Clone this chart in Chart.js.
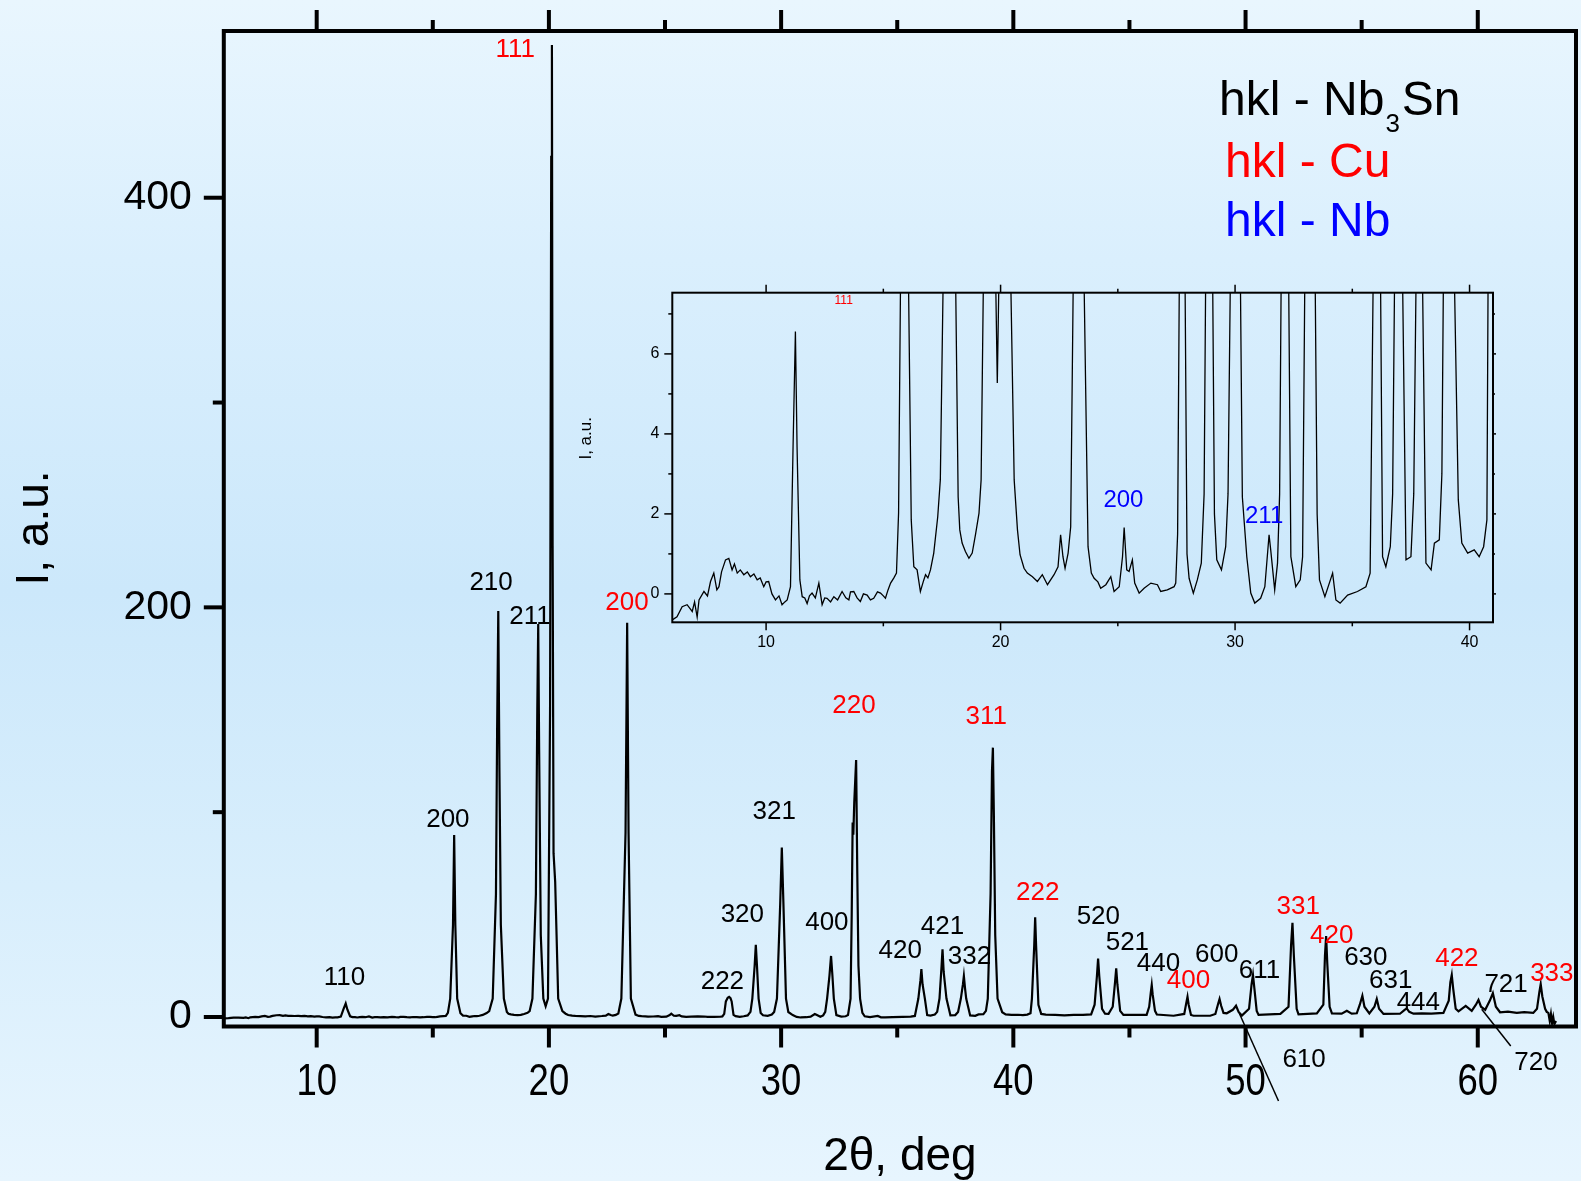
<!DOCTYPE html>
<html><head><meta charset="utf-8">
<script src="https://cdn.jsdelivr.net/npm/chart.js@4.4.1/dist/chart.umd.min.js"></script>
<style>
html,body{margin:0;padding:0;width:1581px;height:1181px;overflow:hidden;
background:linear-gradient(to bottom,#e9f6fe 0%,#daeffd 22%,#cce8fb 50%,#d8eefc 75%,#e7f5fe 100%);}
#main{position:absolute;left:0;top:0;}
#inset{position:absolute;left:560px;top:270px;}
</style></head><body>
<canvas id="main" width="1581" height="1181"></canvas>
<canvas id="inset" width="950" height="400"></canvas>
<script>
// ---- measured pattern: 2theta (deg) ----
const twoTheta = [
 6.00, 6.20, 6.42, 6.63, 6.85, 6.95, 7.06, 7.14, 7.35, 7.50,
 7.63, 7.77, 7.90, 7.99, 8.10, 8.27, 8.41, 8.55, 8.65, 8.77,
 8.90, 9.05, 9.20, 9.33, 9.48, 9.62, 9.75, 9.90, 10.00, 10.11,
 10.25, 10.40, 10.55, 10.68, 10.80, 10.90, 11.04, 11.15, 11.25, 11.32,
 11.44, 11.54, 11.65, 11.75, 11.85, 11.96, 12.10, 12.25, 12.39, 12.50,
 12.60, 12.75, 12.89, 13.05, 13.24, 13.40, 13.53, 13.60, 13.74, 13.88,
 14.02, 14.15, 14.31, 14.45, 14.59, 14.75, 14.88, 15.00, 15.09, 15.20,
 15.31, 15.45, 15.56, 15.65, 15.75, 15.87, 15.92, 15.97, 16.05, 16.19,
 16.30, 16.44, 16.58, 16.70, 16.80, 16.90, 17.01, 17.15, 17.32, 17.43,
 17.58, 17.72, 17.77, 17.82, 17.87, 17.93, 18.06, 18.19, 18.26, 18.36,
 18.50, 18.65, 18.79, 18.93, 19.08, 19.17, 19.29, 19.44, 19.50, 19.54,
 19.58, 19.65, 19.76, 19.86, 19.96, 20.05, 20.10, 20.13, 20.16, 20.20,
 20.27, 20.33, 20.40, 20.58, 20.72, 20.83, 21.00, 21.14, 21.36, 21.57,
 21.78, 22.00, 22.28, 22.45, 22.56, 22.66, 22.75, 22.88, 22.99, 23.12,
 23.30, 23.37, 23.43, 23.53, 23.73, 23.87, 23.99, 24.15, 24.27, 24.49,
 24.70, 24.84, 25.06, 25.20, 25.27, 25.38, 25.48, 25.62, 25.72, 25.91,
 26.12, 26.41, 26.69, 26.83, 27.11, 27.40, 27.47, 27.55, 27.62, 27.70,
 27.76, 27.82, 27.87, 27.95, 28.04, 28.22, 28.39, 28.56, 28.68, 28.76,
 28.86, 28.91, 28.96, 29.03, 29.12, 29.22, 29.42, 29.60, 29.70, 29.82,
 29.96, 30.03, 30.10, 30.21, 30.31, 30.50, 30.67, 30.84, 31.09, 31.27,
 31.45, 31.52, 31.69, 31.81, 31.90, 31.98, 32.08, 32.15, 32.21, 32.27,
 32.38, 32.59, 32.78, 32.88, 32.99, 33.04, 33.08, 33.11, 33.15, 33.23,
 33.28, 33.33, 33.40, 33.50, 33.60, 33.83, 34.16, 34.30, 34.48, 34.80,
 35.22, 35.58, 35.76, 35.91, 36.00, 36.04, 36.09, 36.19, 36.29, 36.43,
 36.62, 36.72, 36.82, 36.91, 36.95, 37.00, 37.12, 37.29, 37.50, 37.62,
 37.74, 37.83, 37.87, 37.92, 37.97, 38.14, 38.36, 38.50, 38.71, 38.82,
 38.90, 39.02, 39.08, 39.12, 39.16, 39.22, 39.32, 39.52, 39.67, 39.92,
 40.20, 40.41, 40.60, 40.74, 40.80, 40.90, 40.94, 40.98, 41.08, 41.20,
 41.40, 41.80, 42.20, 42.60, 43.00, 43.35, 43.50, 43.60, 43.65, 43.70,
 43.82, 43.95, 44.10, 44.28, 44.38, 44.43, 44.48, 44.60, 44.74, 45.17,
 45.74, 45.85, 45.92, 45.96, 46.00, 46.10, 46.18, 46.90, 47.36, 47.45,
 47.50, 47.55, 47.65, 47.76, 48.48, 48.70, 48.82, 48.88, 48.95, 49.05,
 49.19, 49.45, 49.59, 49.70, 49.84, 50.15, 50.26, 50.32, 50.38, 50.48,
 50.56, 51.50, 51.85, 51.96, 52.02, 52.08, 52.20, 52.28, 53.07, 53.35,
 53.42, 53.47, 53.52, 53.62, 53.72, 54.14, 54.36, 54.57, 54.79, 54.92,
 55.03, 55.12, 55.33, 55.55, 55.65, 55.75, 55.94, 56.65, 56.85, 56.94,
 57.05, 57.23, 57.60, 58.00, 58.52, 58.75, 58.82, 58.88, 58.94, 59.05,
 59.17, 59.48, 59.74, 59.92, 60.03, 60.14, 60.32, 60.52, 60.65, 60.78,
 60.96, 61.30, 61.68, 62.00, 62.39, 62.55, 62.65, 62.71, 62.78, 62.90,
 62.97, 63.04, 63.10, 63.15, 63.20, 63.25, 63.30, 63.37
];
// ---- measured pattern: intensity (a.u.) ----
const intensity = [
 -0.65, -0.57, -0.32, -0.27, -0.44, -0.20, -0.58, -0.15, 0.06, -0.05,
 0.31, 0.52, 0.10, 0.18, 0.55, 0.85, 0.89, 0.60, 0.75, 0.52,
 0.60, 0.48, 0.55, 0.43, 0.50, 0.35, 0.40, 0.18, 0.30, 0.31,
 0.00, -0.15, -0.05, -0.27, -0.20, -0.15, 0.18, 3.68, 6.56, 3.68,
 0.35, -0.07, -0.10, -0.24, -0.05, 0.02, -0.10, 0.27, -0.27, -0.10,
 -0.11, -0.20, -0.07, -0.15, 0.06, -0.10, -0.15, 0.05, 0.06, -0.10,
 -0.19, 0.00, -0.03, -0.15, -0.11, 0.05, 0.02, -0.05, -0.11, 0.10,
 0.27, 0.40, 0.52, 2.02, 9.0, 45, 88.9, 45, 9.0, 1.85,
 0.68, 0.60, 0.06, 0.30, 0.48, 0.40, 0.60, 1.02, 1.93, 2.85,
 9.0, 60, 140, 198.2, 120, 45, 9.0, 2.43, 1.60, 1.27,
 1.06, 0.89, 1.02, 1.48, 2.02, 2.85, 9.0, 60, 150, 191.9,
 130, 40, 9.0, 5.27, 9.0, 150, 420, 474.6, 230, 80,
 66, 40, 9.0, 2.85, 1.60, 0.98, 0.64, 0.52, 0.43, 0.31,
 0.48, 0.23, 0.48, 0.68, 1.48, 0.93, 0.64, 1.02, 1.68, 9.0,
 90, 192.5, 90, 9.0, 1.18, 0.52, 0.39, 0.30, 0.14, 0.23,
 0.43, 0.06, 0.18, 0.93, 1.66, 0.60, 0.56, 0.85, 0.27, 0.02,
 0.14, 0.27, 0.23, 0.06, 0.10, 0.18, 0.27, 1.5, 7.6, 9.4,
 9.8, 9.2, 7.6, 1.0, 0.39, 0.02, 0.35, 0.77, 2.5, 9.0,
 25, 35.2, 25, 9.0, 2.0, 0.85, 0.60, 1.18, 2.5, 9.0,
 55, 82.7, 55, 9.0, 2.43, 0.93, 0.02, -0.23, -0.11, 0.18,
 1.48, 1.10, 0.10, 0.77, 2.5, 9.0, 20, 29.8, 20, 9.0,
 0.93, 0.18, 0.35, 0.93, 9.0, 50, 95, 89, 105, 125.5,
 70, 25, 9.0, 2.0, 0.35, -0.07, 0.52, -0.15, -0.23, -0.03,
 0.06, 0.18, 0.52, 9.0, 18, 23.4, 16, 9.0, 0.93, 0.68,
 1.18, 2.5, 9.0, 25, 33, 22, 9.0, 0.85, 0.93, 2.5,
 9.0, 16, 20, 14, 9.0, 0.77, 0.60, 1.27, 1.35, 3.0,
 9.0, 60, 120, 131.5, 100, 40, 9.0, 2.35, 1.27, 1.02,
 1.10, 0.93, 1.18, 1.85, 9.0, 35, 48.7, 35, 6.0, 1.5,
 1.2, 1.0, 0.8, 1.0, 1.0, 1.3, 6, 20, 28.5, 20,
 4, 1.6, 1.5, 5, 17, 23.8, 16, 3, 1.0, 1.0,
 1.0, 5, 12, 15.6, 11, 3, 1.2, 0.6, 1.5, 7,
 9.9, 6, 1.0, 0.6, 0.6, 1.5, 6.5, 8.8, 5.5, 2.0,
 1.8, 3.5, 5.5, 2.5, 0.7, 4, 16, 20.5, 14, 3,
 1.0, 1.5, 5, 35, 46, 30, 4, 1.3, 1.8, 6,
 30, 39.5, 26, 5, 1.8, 1.6, 3.0, 1.6, 1.8, 6,
 10.4, 5, 1.8, 5, 8.8, 4, 1.5, 1.6, 3.5, 4.2,
 2.5, 1.6, 1.8, 1.6, 2.0, 8, 17, 20.5, 14, 4,
 2.8, 5.4, 3.0, 6, 8.3, 5, 3.5, 8, 11.6, 5,
 2.3, 2.6, 2.0, 2.4, 2.0, 4, 12, 16, 10, 4,
 2.5, 2.0, -2.0, 1.5, -3.0, 0.0, -3.5, -2.0
];

// ---- axes ----
const xMajorTicks = [10, 20, 30, 40, 50, 60];
const xMinorTicks = [15, 25, 35, 45, 55];
const yMajorTicks = [0, 200, 400];
const yMinorTicks = [100, 300];
const insetXMajor = [10, 20, 30, 40];
const insetXMinor = [15, 25, 35];
const insetYMajor = [0, 2, 4, 6];
const insetYMinor = [1, 3, 5, 7];

// ---- hkl labels (main): text, 2theta anchor, intensity anchor, phase ----
const hklText  = ['111','110','200','210','211','200','222','320','321','400','220','420','421','332','311','222','520','521','440','400','600','611','331','420','630','631','444','422','721','333','610','720'];
const hklTheta = [18.55,11.2,15.65,17.51,19.19,23.36,27.47,28.33,29.7,31.97,33.14,35.13,36.95,38.11,38.83,41.05,43.66,44.91,46.25,47.54,48.76,50.6,52.27,53.71,55.18,56.25,57.44,59.1,61.22,63.19,52.52,62.51];
const hklI     = [472,18.9,96.2,211.8,195.5,202.3,17.2,49.8,100.2,46,151.9,32.4,43.8,29.2,146.6,60.7,48.7,36,26.2,17.7,30.3,22.6,53.9,39.6,28.7,17.6,7.0,28.2,15.6,21,-20.7,-22.3];
const hklPhase = ['Cu','Nb3Sn','Nb3Sn','Nb3Sn','Nb3Sn','Cu','Nb3Sn','Nb3Sn','Nb3Sn','Nb3Sn','Cu','Nb3Sn','Nb3Sn','Nb3Sn','Cu','Cu','Nb3Sn','Nb3Sn','Nb3Sn','Cu','Nb3Sn','Nb3Sn','Cu','Cu','Nb3Sn','Nb3Sn','Nb3Sn','Cu','Nb3Sn','Cu','Nb3Sn','Nb3Sn'];
// leader lines for 610 and 720
const leaderFromTheta = [49.73, 60.17];
const leaderFromI     = [1.8, 3.8];
const leaderToTheta   = [51.42, 61.42];
const leaderToI       = [-41, -14.2];

// ---- hkl labels (inset) ----
const insetText  = ['111', '200', '211'];
const insetTheta = [13.31, 25.24, 31.24];
const insetI     = [7.33, 2.33, 1.95];
const insetPhase = ['Cu', 'Nb', 'Nb'];

const phaseColor = { 'Nb3Sn': '#000000', 'Cu': '#ff0000', 'Nb': '#0000ff' };

const SANS = "'Liberation Sans', Arial, Helvetica, sans-serif";
const NARROW = "'Liberation Sans Narrow', 'Arial Narrow', 'Liberation Sans', Arial, sans-serif";

const points = twoTheta.map((t, i) => ({ x: t, y: intensity[i] }));

function line(ctx, x1, y1, x2, y2) {
  ctx.beginPath(); ctx.moveTo(x1, y1); ctx.lineTo(x2, y2); ctx.stroke();
}
function noPad(s) { s.paddingTop = 0; s.paddingBottom = 0; s.paddingLeft = 0; s.paddingRight = 0; }

const mainDecor = {
  id: 'mainDecor',
  afterDraw(chart) {
    const { ctx, chartArea: a, scales: { x, y } } = chart;
    ctx.save();
    ctx.strokeStyle = '#000';
    ctx.lineWidth = 4;
    ctx.strokeRect(a.left, a.top, a.right - a.left, a.bottom - a.top);
    xMajorTicks.forEach(v => { const p = x.getPixelForValue(v);
      line(ctx, p, a.bottom, p, a.bottom + 21); line(ctx, p, a.top, p, a.top - 21); });
    xMinorTicks.forEach(v => { const p = x.getPixelForValue(v);
      line(ctx, p, a.bottom, p, a.bottom + 11); line(ctx, p, a.top, p, a.top - 11); });
    yMajorTicks.forEach(v => { const p = y.getPixelForValue(v); line(ctx, a.left, p, a.left - 20, p); });
    yMinorTicks.forEach(v => { const p = y.getPixelForValue(v); line(ctx, a.left, p, a.left - 11, p); });

    // x tick labels (condensed face)
    ctx.fillStyle = '#000';
    ctx.font = '44px ' + NARROW;
    ctx.textAlign = 'center';
    ctx.textBaseline = 'alphabetic';
    const narrowOk = ctx.measureText('10').width < 43;
    xMajorTicks.forEach(v => {
      ctx.save();
      ctx.translate(x.getPixelForValue(v), a.bottom + 68.5);
      if (!narrowOk) ctx.scale(0.83, 1);
      ctx.fillText(String(v), 0, 0);
      ctx.restore();
    });

    // leader lines
    ctx.lineWidth = 1.5;
    leaderFromTheta.forEach((t, i) => {
      line(ctx, x.getPixelForValue(t), y.getPixelForValue(leaderFromI[i]),
        x.getPixelForValue(leaderToTheta[i]), y.getPixelForValue(leaderToI[i]));
    });

    // hkl labels
    ctx.font = '26px ' + SANS;
    ctx.textAlign = 'center';
    ctx.textBaseline = 'middle';
    hklText.forEach((s, i) => {
      ctx.fillStyle = phaseColor[hklPhase[i]];
      ctx.fillText(s, x.getPixelForValue(hklTheta[i]), y.getPixelForValue(hklI[i]));
    });

    // legend
    ctx.textAlign = 'left';
    ctx.textBaseline = 'alphabetic';
    ctx.font = '48px ' + SANS;
    ctx.fillStyle = phaseColor['Nb3Sn'];
    const t1 = 'hkl - Nb';
    ctx.fillText(t1, 1219, 115);
    const w1 = ctx.measureText(t1).width;
    ctx.font = '26px ' + SANS;
    ctx.fillText('3', 1219 + w1 + 1, 132);
    const w3 = ctx.measureText('3').width;
    ctx.font = '48px ' + SANS;
    ctx.fillText('Sn', 1219 + w1 + w3 + 3, 115);
    ctx.fillStyle = phaseColor['Cu'];
    ctx.fillText('hkl - Cu', 1225, 177);
    ctx.fillStyle = phaseColor['Nb'];
    ctx.fillText('hkl - Nb', 1225, 236);

    // axis titles
    ctx.fillStyle = '#000';
    ctx.font = '46px ' + SANS;
    ctx.textAlign = 'center';
    ctx.fillText('2\u03B8, deg', (a.left + a.right) / 2, 1170);
    ctx.translate(48, 528);
    ctx.rotate(-Math.PI / 2);
    ctx.fillText('I, a.u.', 0, 0);
    ctx.restore();
  }
};

const insetDecor = {
  id: 'insetDecor',
  afterDraw(chart) {
    const { ctx, chartArea: a, scales: { x, y } } = chart;
    ctx.save();
    ctx.strokeStyle = '#000';
    ctx.lineWidth = 2;
    ctx.strokeRect(a.left, a.top, a.right - a.left, a.bottom - a.top);
    ctx.lineWidth = 1.5;
    insetXMajor.forEach(v => { const p = x.getPixelForValue(v);
      line(ctx, p, a.bottom, p, a.bottom + 8); line(ctx, p, a.top, p, a.top - 8); });
    insetXMinor.forEach(v => { const p = x.getPixelForValue(v);
      line(ctx, p, a.bottom, p, a.bottom + 4); line(ctx, p, a.top, p, a.top - 4); });
    insetYMajor.forEach(v => { const p = y.getPixelForValue(v);
      line(ctx, a.left, p, a.left - 8, p); line(ctx, a.right, p, a.right + 3, p); });
    insetYMinor.forEach(v => { const p = y.getPixelForValue(v);
      line(ctx, a.left, p, a.left - 4, p); line(ctx, a.right, p, a.right + 2, p); });

    ctx.textAlign = 'center';
    ctx.textBaseline = 'middle';
    insetText.forEach((s, i) => {
      ctx.font = (i === 0 ? '12px ' : '24px ') + SANS;
      ctx.fillStyle = phaseColor[insetPhase[i]];
      ctx.fillText(s, x.getPixelForValue(insetTheta[i]), y.getPixelForValue(insetI[i]));
    });

    ctx.fillStyle = '#000';
    ctx.font = '17px ' + SANS;
    ctx.textBaseline = 'alphabetic';
    ctx.translate(30.5, 168.3);
    ctx.rotate(-Math.PI / 2);
    ctx.fillText('I, a.u.', 0, 0);
    ctx.restore();
  }
};

Chart.defaults.color = '#000';

new Chart(document.getElementById('main'), {
  type: 'line',
  data: { datasets: [{ data: points, borderColor: '#000', borderWidth: 2.2, pointRadius: 0, tension: 0, fill: false }] },
  options: {
    responsive: false, animation: false, devicePixelRatio: 1,
    layout: { padding: { top: 31, right: 5, left: 0, bottom: 0 } },
    plugins: { legend: { display: false }, tooltip: { enabled: false } },
    scales: {
      x: {
        type: 'linear', position: 'bottom', min: 6.0, max: 64.23,
        grid: { display: false, drawTicks: false }, border: { display: false },
        afterBuildTicks: s => { s.ticks = xMajorTicks.map(v => ({ value: v })); },
        afterFit: s => { s.height = 154.5; noPad(s); },
        ticks: { display: false }
      },
      y: {
        type: 'linear', position: 'left', min: -4.64, max: 481.4,
        grid: { display: false, drawTicks: false }, border: { display: false },
        afterBuildTicks: s => { s.ticks = yMajorTicks.map(v => ({ value: v })); },
        afterFit: s => { s.width = 223.8; noPad(s); },
        ticks: { font: { family: SANS, size: 41 }, color: '#000', padding: 32 }
      }
    }
  },
  plugins: [mainDecor]
});

new Chart(document.getElementById('inset'), {
  type: 'line',
  data: { datasets: [{ data: points, borderColor: '#000', borderWidth: 1.3, pointRadius: 0, tension: 0, fill: false }] },
  options: {
    responsive: false, animation: false, devicePixelRatio: 1,
    layout: { padding: { top: 22.7, right: 17, left: 0, bottom: 0 } },
    plugins: { legend: { display: false }, tooltip: { enabled: false } },
    scales: {
      x: {
        type: 'linear', position: 'bottom', min: 6.0, max: 41.0,
        grid: { display: false, drawTicks: false }, border: { display: false },
        afterBuildTicks: s => { s.ticks = insetXMajor.map(v => ({ value: v })); },
        afterFit: s => { s.height = 47.7; noPad(s); },
        ticks: { font: { family: NARROW, size: 16 }, color: '#000', padding: 11, maxRotation: 0, autoSkip: false }
      },
      y: {
        type: 'linear', position: 'left', min: -0.71, max: 7.53,
        grid: { display: false, drawTicks: false }, border: { display: false },
        afterBuildTicks: s => { s.ticks = insetYMajor.map(v => ({ value: v })); },
        afterFit: s => { s.width = 112.3; noPad(s); },
        ticks: { font: { family: SANS, size: 16 }, color: '#000', padding: 13 }
      }
    }
  },
  plugins: [insetDecor]
});
</script>
</body></html>
